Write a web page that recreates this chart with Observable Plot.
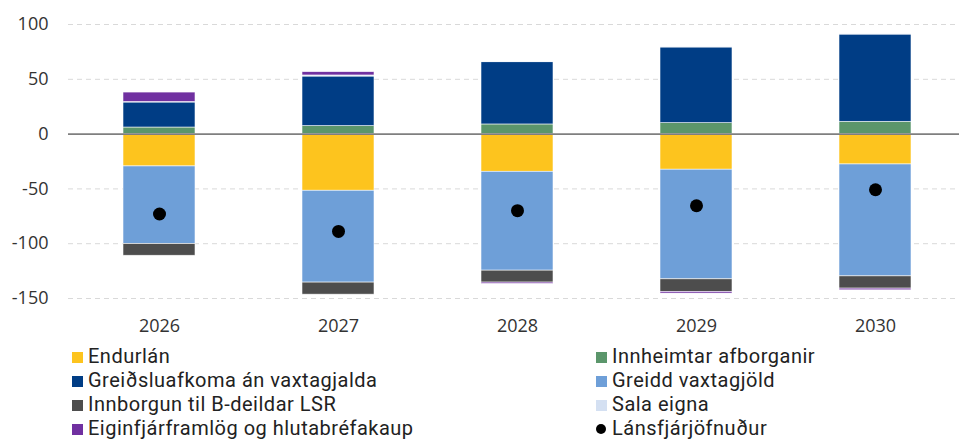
<!DOCTYPE html>
<html>
<head>
<meta charset="utf-8">
<script src="https://cdn.jsdelivr.net/npm/d3@7"></script>
<script src="https://cdn.jsdelivr.net/npm/@observablehq/plot@0.6"></script>
<style>
  html, body { margin: 0; padding: 0; background: #fff; }
  #wrap { position: relative; width: 959px; height: 440px; overflow: hidden; }
  #legend { position: absolute; left: 0; top: 340px; width: 959px; height: 100px; font-family: Roboto, "Noto Sans", sans-serif; font-size: 20px; letter-spacing: 0.5px; color: #222; }
  .item { position: absolute; height: 24px; line-height: 24px; white-space: nowrap; }
  .sw { position: absolute; width: 11px; height: 11px; top: 8px; left: 0; }
  .dot { position: absolute; width: 10px; height: 10px; border-radius: 50%; background: #000; top: 8.5px; left: 0; }
  .lbl { position: absolute; left: 16px; top: 0; }
</style>
</head>
<body>
<div id="wrap">
  <div id="chart"></div>
  <div id="legend"></div>
</div>
<script>
const years = ["2026", "2027", "2028", "2029", "2030"];

const seriesNames = [
  "Endurlán",
  "Innheimtar afborganir",
  "Greiðsluafkoma án vaxtagjalda",
  "Greidd vaxtagjöld",
  "Innborgun til B-deildar LSR",
  "Sala eigna",
  "Eiginfjárframlög og hlutabréfakaup"
];

const endurlan        = [-29.5, -51.7, -34.4, -32.5, -27.7];
const innheimtar      = [6.0, 7.3, 8.8, 10.0, 11.2];
const greidsluafkoma  = [22.8, 45.2, 56.8, 69.0, 79.6];
const greiddVextir    = [-70.8, -83.8, -90.2, -100.0, -102.1];
const innborgunLSR    = [-10.7, -11.0, -10.9, -11.5, -11.2];
const salaEigna       = [0.5, 1.0, 0.5, 0.3, 0.3];
const eiginfjar       = [8.6, 3.0, -1.2, -1.5, -1.5];
const lansfjarjofnudur = [-72.9, -88.8, -69.9, -65.4, -50.8];

const yTicks = [-150, -100, -50, 0, 50, 100];

const colors = ["#FDC41E", "#5B966B", "#003D85", "#6E9FD8", "#4D4D4D", "#D4E0F2", "#7030A0"];

const seriesValues = [endurlan, innheimtar, greidsluafkoma, greiddVextir, innborgunLSR, salaEigna, eiginfjar];
const rows = seriesNames.flatMap((name, i) =>
  years.map((year, j) => ({ year, series: name, value: seriesValues[i][j] }))
);
const dots = years.map((year, j) => ({ year, value: lansfjarjofnudur[j] }));

const chart = Plot.plot({
  width: 959,
  height: 340,
  marginLeft: 68,
  marginRight: 0,
  marginTop: 24,
  marginBottom: 42,
  style: { fontFamily: "'Open Sans', 'Noto Sans', sans-serif", fontSize: "18px", color: "#333", background: "#fff", overflow: "visible" },
  x: { type: "band", domain: years, range: [68, 966], paddingInner: 0.6, paddingOuter: 0.3, label: null },
  y: { domain: [-150, 100], label: null },
  color: { domain: seriesNames, range: colors },
  marks: [
    Plot.gridY(yTicks.filter(d => d !== 0), { stroke: "#d9d9d9", strokeOpacity: 1, strokeDasharray: "5,4", strokeWidth: 1 }),
    Plot.barY(rows, Plot.stackY({ order: null }, { x: "year", y: "value", fill: "series", stroke: "white", strokeWidth: 0.7, strokeOpacity: 0.8 })),
    Plot.ruleY([0], { stroke: "#7f7f7f", strokeWidth: 1.8 }),
    Plot.dot(dots, { x: "year", y: "value", r: 6.5, fill: "#000" }),
    Plot.axisY({ ticks: yTicks, tickSize: 0, tickPadding: 20, tickFormat: d => String(d), label: null }),
    Plot.axisX({ tickSize: 0, tickPadding: 21, label: null })
  ]
});
document.getElementById("chart").appendChild(chart);

// Legend
const legend = document.getElementById("legend");
const leftItems = [0, 2, 4, 6];
const rightItems = [1, 3, 5];
function addItem(col, row, label, color, isDot) {
  const div = document.createElement("div");
  div.className = "item";
  div.style.left = (col === 0 ? 72 : 596) + "px";
  div.style.top = (3.5 + row * 24.1) + "px";
  const sw = document.createElement("span");
  if (isDot) { sw.className = "dot"; } else { sw.className = "sw"; sw.style.background = color; }
  const lbl = document.createElement("span");
  lbl.className = "lbl";
  lbl.textContent = label;
  div.appendChild(sw);
  div.appendChild(lbl);
  legend.appendChild(div);
}
leftItems.forEach((si, r) => addItem(0, r, seriesNames[si], colors[si], false));
rightItems.forEach((si, r) => addItem(1, r, seriesNames[si], colors[si], false));
addItem(1, 3, "Lánsfjárjöfnuður", "#000", true);
</script>
</body>
</html>
